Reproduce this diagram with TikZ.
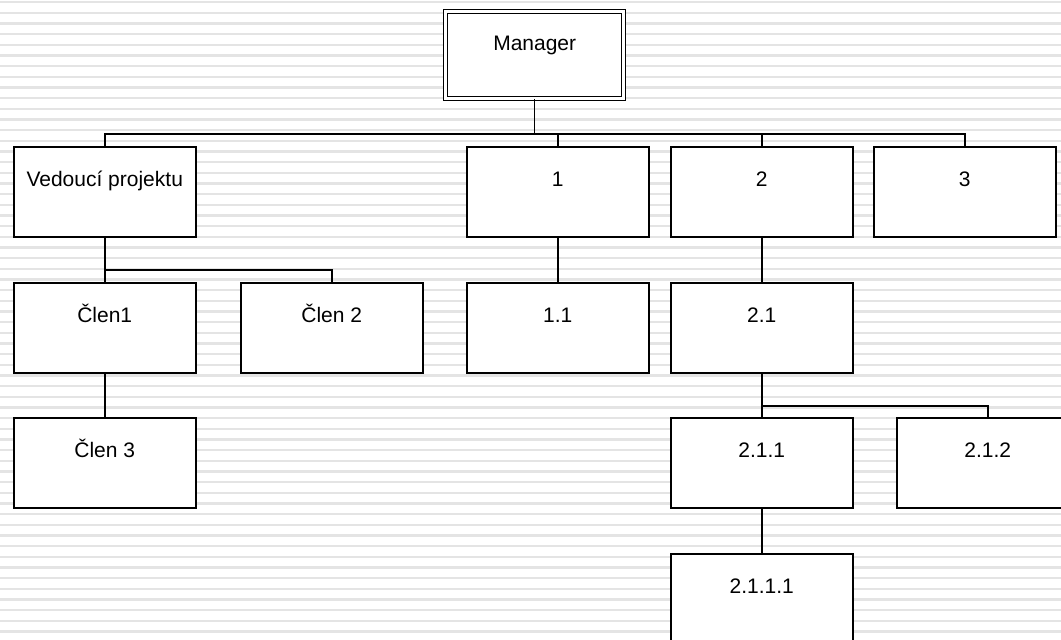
\documentclass[tikz,border=0pt]{standalone}
\usepackage{fontspec}
\setmainfont{Liberation Sans}
\definecolor{stripec}{RGB}{228,228,228}
\begin{document}
\begin{tikzpicture}[x=1pt,y=-1pt,
  box/.style={draw=black, line width=1.5pt, fill=white, minimum width=182pt,
    minimum height=90pt, inner xsep=0pt, inner ysep=0pt, text height=39.5pt,
    text depth=50.5pt, anchor=north west, font=\fontsize{21}{24}\selectfont},
  mgrbox/.style={draw=black, line width=1.4pt, double=white, double distance=2.6pt,
    fill=white, minimum width=178pt, minimum height=87pt, inner xsep=0pt,
    inner ysep=0pt, text height=38.5pt, text depth=48.5pt, anchor=north west,
    font=\fontsize{21}{24}\selectfont},
  link/.style={draw=black, line width=1.5pt}]
\useasboundingbox (0,0) rectangle (1061,640);
\clip (0,0) rectangle (1061,640);
\fill[white] (0,0) rectangle (1061,640);
\foreach \i in {0,...,60}
  \fill[stripec] (0,{1+\i*10.6667}) rectangle (1061,{3.2+\i*10.6667});

\node[mgrbox] (mgr) at (445,11) {Manager};
\node[box] (ved) at (13,146) {Vedoucí projektu};
\node[box] (n1) at (466,146) {1};
\node[box] (n2) at (670,146) {2};
\node[box] (n3) at (873,146) {3};
\node[box] (c1) at (13,282) {Člen1};
\node[box] (c2) at (240,282) {Člen 2};
\node[box] (n11) at (466,282) {1.1};
\node[box] (n21) at (670,282) {2.1};
\node[box] (c3) at (13,417) {Člen 3};
\node[box] (n211) at (670,417) {2.1.1};
\node[box] (n212) at (896,417) {2.1.2};
\node[box] (n2111) at (670,553) {2.1.1.1};

\coordinate (busA) at (534,134);
\coordinate (busB) at (104,270);
\coordinate (busC) at (761,406);

\draw[link] (mgr.south) -- (mgr.south |- busA);
\draw[link] (ved.north) -- (ved.north |- busA) -- (n3.north |- busA) -- (n3.north);
\draw[link] (n1.north) -- (n1.north |- busA);
\draw[link] (n2.north) -- (n2.north |- busA);
\draw[link] (ved.south) -- (c1.north);
\draw[link] (c1.north |- busB) -- (c2.north |- busB) -- (c2.north);
\draw[link] (c1.south) -- (c3.north);
\draw[link] (n1.south) -- (n11.north);
\draw[link] (n2.south) -- (n21.north);
\draw[link] (n21.south) -- (n211.north);
\draw[link] (n211.north |- busC) -- (n212.north |- busC) -- (n212.north);
\draw[link] (n211.south) -- (n2111.north);
\end{tikzpicture}
\end{document}
